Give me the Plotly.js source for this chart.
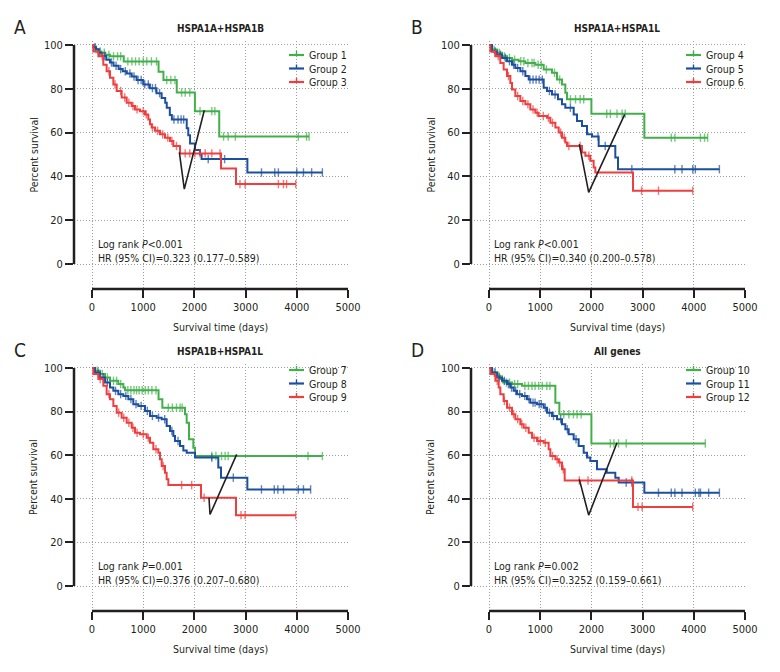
<!DOCTYPE html>
<html>
<head>
<meta charset="utf-8">
<script src="https://cdn.plot.ly/plotly-3.0.1.min.js"></script>
<style>
  html, body { margin: 0; padding: 0; background: #fff; }
  #chart { width: 780px; height: 672px; }
</style>
</head>
<body>
<div id="chart"></div>
<script>
// ---- data ----
const xTicks = [0, 1000, 2000, 3000, 4000, 5000];
const yTicks = [0, 20, 40, 60, 80, 100];
const panelLetters = ['A', 'B', 'C', 'D'];
const panelTitles = ['HSPA1A+HSPA1B', 'HSPA1A+HSPA1L', 'HSPA1B+HSPA1L', 'All genes'];
const groupNames = [
  ['Group 1', 'Group 2', 'Group 3'],
  ['Group 4', 'Group 5', 'Group 6'],
  ['Group 7', 'Group 8', 'Group 9'],
  ['Group 10', 'Group 11', 'Group 12']
];
const logRank = ['<i>P</i>&lt;0.001', '<i>P</i>&lt;0.001', '<i>P</i>=0.001', '<i>P</i>=0.002'];
const hazard = ['0.323 (0.177–0.589)', '0.340 (0.200–0.578)', '0.376 (0.207–0.680)', '0.3252 (0.159–0.661)'];

// step start times (days), survival (%) from that time on, censor times
const g1Time = [0, 30, 70, 120, 180, 260, 350, 620, 1300, 1395, 1655, 2010, 2485];
const g1Surv = [100, 99, 98, 97, 96.5, 95.5, 94.8, 92.5, 87.8, 84, 78.3, 69.8, 58.2];
const g1Cens = [80, 160, 240, 330, 420, 500, 560, 700, 780, 850, 920, 1000, 1070, 1160, 1260, 1460, 1540, 1620, 1750, 1820, 1910, 2110, 2340, 2400, 2570, 2660, 2800, 4030, 4190, 4240];

const g2Time = [0, 30, 80, 130, 200, 280, 350, 420, 520, 600, 680, 775, 870, 1000, 1130, 1260, 1360, 1430, 1460, 1520, 1560, 1850, 1880, 1915, 2010, 2110, 2140, 3035];
const g2Surv = [100, 99, 98, 96.5, 95, 93.3, 92, 90.5, 89, 88, 87, 85.6, 84, 82, 80.3, 78, 75.8, 73.6, 71.4, 68, 66, 62, 58.8, 55, 52, 50, 47.9, 41.8];
const g2Cens = [60, 150, 250, 380, 470, 560, 650, 740, 820, 900, 960, 1030, 1100, 1180, 1240, 1320, 1600, 1680, 1740, 1790, 2270, 2590, 3310, 3570, 3640, 4000, 4130, 4290, 4500];

const g3Time = [0, 26, 124, 221, 286, 352, 417, 482, 579, 677, 775, 840, 938, 1035, 1100, 1133, 1165, 1230, 1328, 1426, 1523, 1589, 1719, 2520, 2812];
const g3Surv = [100, 97, 94.8, 91, 88, 85, 82, 79, 76, 73.6, 72.1, 70.6, 69.8, 68.3, 66, 63.8, 62.3, 60.8, 59.2, 57.7, 56.2, 53.9, 50.5, 43.6, 36.5];
const g3Cens = [200, 330, 450, 560, 640, 720, 800, 880, 1000, 1060, 1180, 1280, 1380, 1480, 1560, 1650, 1820, 1910, 2010, 2110, 2210, 2340, 2500, 2890, 2990, 3640, 3740, 3800, 3980];

const g4Time = [0, 59, 156, 254, 352, 449, 579, 710, 905, 1068, 1230, 1328, 1426, 1491, 1523, 2000, 3034];
const g4Surv = [100, 97.9, 96.4, 94.8, 94.1, 93.3, 92.6, 91.8, 91, 88.8, 87.3, 84.2, 82, 78.2, 75.2, 68.6, 57.7];
const g4Cens = [100, 200, 300, 400, 500, 620, 680, 760, 840, 880, 960, 1020, 1120, 1280, 1380, 1590, 1690, 1780, 1850, 2300, 2370, 2500, 2600, 2660, 3560, 3630, 4130, 4210, 4270];

const g5Time = [0, 59, 156, 254, 352, 449, 514, 612, 710, 775, 1068, 1133, 1230, 1348, 1426, 1491, 1654, 1719, 1816, 1914, 2012, 2142, 2467, 2520];
const g5Surv = [100, 97, 95.6, 94.1, 92.6, 91, 89.5, 88, 85.8, 84.2, 80.5, 79, 77.4, 75.2, 72.9, 71.4, 68.3, 65.3, 63, 59.2, 58.2, 53.9, 48.6, 43.3];
const g5Cens = [120, 220, 320, 400, 480, 560, 660, 800, 860, 920, 980, 1040, 1180, 1290, 1590, 2130, 2270, 2790, 3630, 3770, 3980, 4030, 4500];

const g6Time = [0, 26, 124, 221, 286, 352, 417, 449, 514, 612, 710, 807, 905, 970, 1133, 1198, 1296, 1361, 1426, 1491, 1523, 1816, 1882, 1979, 2044, 2077, 2812];
const g6Surv = [100, 97, 94.8, 91.8, 88.8, 85.8, 82.7, 79.7, 76.7, 74.4, 72.9, 70.6, 69.1, 67.6, 66.8, 64.5, 62.3, 60, 57.7, 55.5, 53.9, 50.9, 49.4, 47.1, 44.1, 41.8, 33.5];
const g6Cens = [180, 380, 560, 660, 760, 860, 940, 1060, 1160, 1240, 1400, 1470, 1560, 1780, 1950, 2980, 3310, 3980];

const g7Time = [0, 59, 156, 254, 352, 514, 612, 645, 1300, 1374, 1816, 1849, 1895, 1979, 2012];
const g7Surv = [100, 98.7, 97.2, 95.6, 94.1, 92.6, 91, 89.8, 85.7, 81.8, 78.8, 74.9, 67.3, 63.4, 59.6];
const g7Cens = [100, 200, 300, 420, 480, 560, 700, 760, 820, 870, 920, 980, 1040, 1100, 1170, 1250, 1490, 1570, 1650, 1720, 1760, 2340, 2420, 2530, 2600, 2660, 4220, 4500];

const g8Time = [0, 59, 156, 254, 352, 417, 514, 612, 710, 807, 905, 1035, 1133, 1263, 1361, 1458, 1523, 1589, 1621, 1719, 1784, 1849, 2012, 2467, 2520, 3034];
const g8Surv = [100, 97.9, 95.6, 93.3, 91, 89.5, 88, 87.2, 85.7, 83.4, 82.6, 80.3, 78, 77.2, 76.5, 73.4, 71.1, 68.8, 66.5, 64.2, 62.2, 61.1, 58.9, 54.3, 49.7, 44.3];
const g8Cens = [120, 220, 300, 460, 560, 660, 760, 860, 960, 1080, 1180, 1300, 1420, 1560, 1680, 2340, 2760, 3310, 3560, 3630, 3740, 4030, 4130, 4270];

const g9Time = [0, 26, 124, 221, 286, 352, 417, 482, 579, 677, 775, 840, 938, 1068, 1133, 1198, 1296, 1328, 1361, 1426, 1458, 1491, 2129, 2812];
const g9Surv = [100, 97.2, 94.9, 91.8, 88, 85.7, 82.6, 79.5, 77.2, 74.9, 72.6, 70.3, 69.6, 68, 65.7, 62.7, 61.1, 58.1, 55, 52, 49, 46.3, 40.5, 32.5];
const g9Cens = [160, 330, 520, 620, 720, 800, 880, 1000, 1100, 1250, 1390, 1751, 1947, 2190, 2910, 2990, 3978];

const g10Time = [0, 59, 156, 221, 286, 449, 645, 1296, 1374, 2000];
const g10Surv = [100, 97.9, 96.4, 94.9, 93.3, 92.6, 91.8, 84.1, 78.8, 65.4];
const g10Cens = [100, 190, 260, 340, 400, 500, 560, 700, 770, 840, 900, 970, 1040, 1130, 1190, 1460, 1560, 1650, 1720, 1800, 2370, 2440, 2530, 2680, 4225];

const g11Time = [0, 59, 156, 254, 352, 417, 482, 547, 645, 742, 807, 938, 1068, 1133, 1230, 1328, 1426, 1491, 1556, 1654, 1751, 1849, 1914, 1979, 2109, 2300, 2467, 2533, 3034];
const g11Surv = [100, 97.9, 95.6, 94.1, 92.6, 91, 89.5, 88, 87.2, 85.7, 84.1, 83.4, 81.8, 79.5, 78, 76.5, 74.2, 71.9, 69.6, 67.3, 64.2, 61.1, 58.9, 57.3, 53.5, 52, 49.7, 47.5, 42.8];
const g11Cens = [120, 200, 300, 380, 440, 520, 600, 700, 780, 860, 900, 980, 1020, 1100, 1180, 1260, 1400, 1530, 1700, 2680, 2790, 3310, 3560, 3630, 3770, 4030, 4100, 4130, 4290, 4500];

const g12Time = [0, 26, 124, 189, 221, 286, 352, 449, 514, 612, 677, 775, 840, 938, 1068, 1165, 1198, 1296, 1361, 1426, 1478, 2812];
const g12Surv = [100, 97.2, 94.1, 91, 88, 84.9, 81.8, 78.8, 76.5, 74.2, 72.6, 70.3, 68, 66.5, 65.7, 62.7, 59.6, 58.1, 56.6, 53.5, 48.4, 36.3];
const g12Cens = [160, 300, 400, 480, 560, 640, 720, 880, 960, 1000, 1100, 1240, 1330, 1380, 1450, 1764, 1934, 2790, 2910, 2990, 3978];

// the black hand-drawn V marks
const markX = [[1706, 1803, 2194], [1764, 1947, 2650], [2285, 2305, 2826], [1764, 1947, 2500]];
const markY = [[51, 34.2, 70.2], [54.7, 32.7, 68.3], [40.5, 32.8, 60.4], [48.9, 32.5, 65.7]];

const groupTime = [g1Time, g2Time, g3Time, g4Time, g5Time, g6Time, g7Time, g8Time, g9Time, g10Time, g11Time, g12Time];
const groupSurv = [g1Surv, g2Surv, g3Surv, g4Surv, g5Surv, g6Surv, g7Surv, g8Surv, g9Surv, g10Surv, g11Surv, g12Surv];
const groupCens = [g1Cens, g2Cens, g3Cens, g4Cens, g5Cens, g6Cens, g7Cens, g8Cens, g9Cens, g10Cens, g11Cens, g12Cens];

// ---- styling / layout ----
const colors = ['#42b04a', '#1d4f9f', '#ee3e3e'];
const ink = '#231f20';
const grid = '#9d9d9d';
const FONT = "'DejaVu Sans Condensed', 'Liberation Sans', sans-serif";
const W = 780, H = 672;
const xRange = [-351.6, 5000];
const yRange = [-11.4, 102];
// pixel boxes of the four plot areas; leg = legend first row below the 100 line
const boxes = [
  {l: 74, r: 348, t: 40.6, b: 289, leg: 10},
  {l: 471, r: 745, t: 40.6, b: 289, leg: 10},
  {l: 74, r: 348, t: 363.6, b: 610.9, leg: 2},
  {l: 471, r: 745, t: 363.6, b: 610.9, leg: 2}
];
const py = v => 1 - v / H;
const px = v => v / W;

function survAt(time, surv, t) {
  let v = surv[0];
  for (let i = 0; i < time.length; i++) if (time[i] <= t) v = surv[i];
  return v;
}

function kmTrace(k, p, j) {
  const time = groupTime[k], surv = groupSurv[k], cens = groupCens[k];
  let pts = time.map((t, i) => [t, surv[i], 0]);
  cens.forEach(t => pts.push([t, survAt(time, surv, t), 1]));
  pts.sort((a, b) => a[0] - b[0] || a[2] - b[2]);
  const sfx = p ? String(p + 1) : '';
  return {
    type: 'scatter', mode: 'lines+markers',
    x: pts.map(d => d[0]), y: pts.map(d => d[1]),
    xaxis: 'x' + sfx, yaxis: 'y' + sfx,
    name: groupNames[p][j], showlegend: false,
    line: {color: colors[j], width: 2, shape: 'hv'},
    marker: {symbol: 'line-ns', size: pts.map(d => d[2] ? 6 : 0), color: colors[j],
             line: {color: colors[j], width: 1.4}},
    cliponaxis: false, hoverinfo: 'skip'
  };
}

const data = [];
const layout = {
  width: W, height: H,
  margin: {l: 0, r: 0, t: 0, b: 0},
  paper_bgcolor: '#fff', plot_bgcolor: 'rgba(0,0,0,0)',
  font: {family: FONT, size: 11, color: ink},
  showlegend: false,
  shapes: [], annotations: []
};

for (let p = 0; p < 4; p++) {
  const sfx = p ? String(p + 1) : '';
  const b = boxes[p];
  for (let j = 0; j < 3; j++) data.push(kmTrace(p * 3 + j, p, j));
  data.push({
    type: 'scatter', mode: 'lines', x: markX[p], y: markY[p],
    xaxis: 'x' + sfx, yaxis: 'y' + sfx, showlegend: false,
    line: {color: ink, width: 1.6}, hoverinfo: 'skip'
  });

  const axisCommon = {
    tickmode: 'array', ticks: 'outside', ticklen: 8, tickwidth: 2, tickcolor: ink,
    showline: false, zeroline: false, showgrid: true,
    gridcolor: grid, griddash: '1px,2px', gridwidth: 1,
    tickfont: {size: 11}, fixedrange: true
  };
  layout['xaxis' + sfx] = Object.assign({
    domain: [px(b.l), px(b.r)], range: xRange, anchor: 'y' + sfx, tickvals: xTicks
  }, axisCommon);
  layout['yaxis' + sfx] = Object.assign({
    domain: [py(b.b), py(b.t)], range: yRange, anchor: 'x' + sfx, tickvals: yTicks
  }, axisCommon);

  // detached axis lines spanning only the tick range
  layout.shapes.push({
    type: 'line', xref: 'x' + sfx, yref: 'y' + sfx + ' domain',
    x0: xTicks[0], x1: xTicks[xTicks.length - 1], y0: 0, y1: 0,
    line: {color: ink, width: 2.5}
  });
  layout.shapes.push({
    type: 'line', xref: 'x' + sfx + ' domain', yref: 'y' + sfx,
    x0: 0, x1: 0, y0: yTicks[0], y1: yTicks[yTicks.length - 1],
    line: {color: ink, width: 2.5}
  });

  const top = b.t + 4.4;        // pixel of y = 100
  const zero = b.b - 25;        // pixel of y = 0

  // compact legend keys: short line with a censor tick, then the label
  for (let j = 0; j < 3; j++) {
    const ry = top + b.leg + j * 13.5;
    layout.shapes.push({
      type: 'line', xref: 'paper', yref: 'paper',
      x0: px(b.l + 215), x1: px(b.l + 230), y0: py(ry), y1: py(ry),
      line: {color: colors[j], width: 2.2}
    });
    layout.shapes.push({
      type: 'line', xref: 'paper', yref: 'paper',
      x0: px(b.l + 222.5), x1: px(b.l + 222.5), y0: py(ry), y1: py(ry - 4),
      line: {color: colors[j], width: 1.4}
    });
    layout.annotations.push({
      text: groupNames[p][j], xref: 'paper', yref: 'paper', x: px(b.l + 233), y: py(ry),
      xanchor: 'left', yanchor: 'middle', showarrow: false, font: {size: 10.5, color: ink}
    });
  }

  layout.annotations.push(
    {text: panelLetters[p], xref: 'paper', yref: 'paper', x: px(b.l - 62), y: py(b.t - 14),
     xanchor: 'left', yanchor: 'middle', showarrow: false, font: {size: 19, color: ink}},
    {text: '<b>' + panelTitles[p] + '</b>', xref: 'x' + sfx, yref: 'paper', x: 2500, y: py(b.t - 12),
     xanchor: 'center', yanchor: 'middle', showarrow: false, font: {size: 10, color: ink}},
    {text: 'Percent survival', xref: 'paper', yref: 'paper', x: px(b.l - 41), y: py((top + zero) / 2),
     textangle: -90, xanchor: 'center', yanchor: 'middle', showarrow: false, font: {size: 10.5, color: ink}},
    {text: 'Survival time (days)', xref: 'x' + sfx, yref: 'paper', x: 2500, y: py(b.b + 38),
     xanchor: 'center', yanchor: 'middle', showarrow: false, font: {size: 10.5, color: ink}},
    {text: 'Log rank ' + logRank[p] + '<br>HR (95% CI)=' + hazard[p], xref: 'x' + sfx, yref: 'y' + sfx,
     x: p % 2 ? 50 : 70, y: 6, xanchor: 'left', yanchor: 'middle', align: 'left',
     showarrow: false, font: {size: 10.5, color: ink}}
  );
}

Plotly.newPlot('chart', data, layout, {displayModeBar: false, staticPlot: true});
</script>
</body>
</html>
